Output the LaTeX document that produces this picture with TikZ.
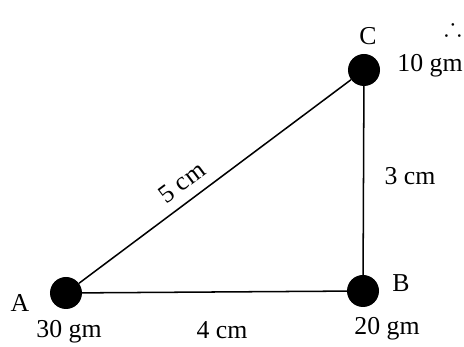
\documentclass[tikz,border=0pt]{standalone}
\usepackage{fontspec}
\setmainfont{Liberation Serif}
\usepackage{amsmath,amssymb}
\usetikzlibrary{positioning,calc}

\begin{document}
\begin{tikzpicture}[x=0.03cm,y=0.03cm,
    mass/.style={circle,fill=black,inner sep=0pt,minimum size=0.96cm},
    rod/.style={line width=1.3pt},
    lbl/.style={font=\fontsize{22}{26}\selectfont}]
    \useasboundingbox (0,0) rectangle (464,347);

    % Masses
    \node[mass] (A) at (66,54) {};
    \node[mass] (B) at (363,56) {};
    \node[mass] (C) at (364,277) {};

    % Sides
    \draw[rod] (A) -- node[lbl,pos=0.42,sloped,above=5pt] {5 cm} (C);
    \draw[rod] (A) -- (B);
    \draw[rod] (B) -- (C);

    % Vertex names
    \node[lbl] (nameA) at (20,44) {A};
    \node[lbl] (nameB) at (401,64) {B};
    \node[lbl] (nameC) at (368,311) {C};

    % Mass values
    \node[lbl] (mA) at (69,15) {30 gm};
    \node[lbl] (mB) at (387,18) {20 gm};
    \node[lbl] (mC) at (430,281) {10 gm};

    % Lengths
    \node[lbl] (lenAB) at (222,17) {4 cm};
    \node[lbl] (lenBC) at (410,171) {3 cm};
    \node[lbl] (dots) at (453,320) {$\therefore$};
\end{tikzpicture}
\end{document}
